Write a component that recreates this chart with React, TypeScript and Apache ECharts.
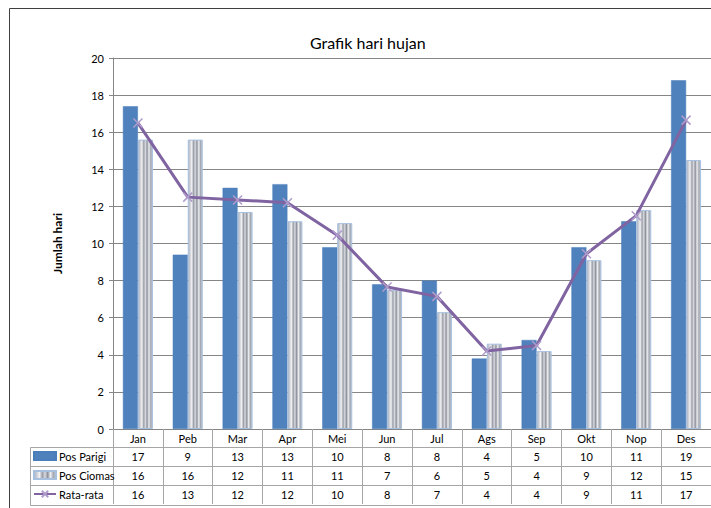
import React, { useEffect, useRef } from "react";
import * as echarts from "echarts";

const months = ["Jan", "Peb", "Mar", "Apr", "Mei", "Jun", "Jul", "Ags", "Sep", "Okt", "Nop", "Des"];
const posParigi = [17.4, 9.4, 13.0, 13.2, 9.8, 7.8, 8.0, 3.8, 4.8, 9.8, 11.2, 18.8];
const posCiomas = [15.6, 15.6, 11.7, 11.2, 11.1, 7.5, 6.3, 4.6, 4.2, 9.1, 11.8, 14.5];
const rataRata = [16.5, 12.5, 12.35, 12.2, 10.45, 7.65, 7.15, 4.2, 4.5, 9.45, 11.5, 16.65];
const tableParigi = ["17", "9", "13", "13", "10", "8", "8", "4", "5", "10", "11", "19"];
const tableCiomas = ["16", "16", "12", "11", "11", "7", "6", "5", "4", "9", "12", "15"];
const tableRata = ["16", "13", "12", "12", "10", "8", "7", "4", "4", "9", "11", "17"];
const seriesNames = ["Pos Parigi", "Pos Ciomas", "Rata-rata"];

const FONT = "Lato, 'Open Sans', sans-serif";
const TABLE_LINE = "#a6a6a6";
const AXIS_LINE = "#868686";

const stripe = new echarts.graphic.LinearGradient(0, 0, 1, 0, [
  { offset: 0, color: "#a9b3c4" },
  { offset: 0.12, color: "#c9ccd3" },
  { offset: 0.25, color: "#f2f2f4" },
  { offset: 0.38, color: "#9a9ea8" },
  { offset: 0.5, color: "#d8dadf" },
  { offset: 0.62, color: "#8d919b" },
  { offset: 0.75, color: "#eceef0" },
  { offset: 0.88, color: "#a3a7b0" },
  { offset: 1, color: "#c4c8d0" },
]);

function tableAxis(offset: number, labels: string[] | null) {
  return {
    type: "category",
    data: months,
    position: "bottom",
    offset,
    gridIndex: 0,
    axisLine: { show: true, lineStyle: { color: TABLE_LINE, width: 1 } },
    axisTick: {
      show: labels !== null,
      alignWithLabel: false,
      length: 19,
      lineStyle: { color: TABLE_LINE, width: 1 },
    },
    axisLabel: {
      show: labels !== null,
      interval: 0,
      margin: 4,
      fontSize: 11,
      fontFamily: FONT,
      color: "#000",
      formatter: (_v: string, i: number) => (labels ? labels[i] : ""),
    },
    splitLine: { show: false },
  };
}

export default function App() {
  const ref = useRef<HTMLDivElement>(null);
  useEffect(() => {
    if (!ref.current) return;
    const chart = echarts.init(ref.current, null, { renderer: "svg" });
    const crossPath = "path://M0,0L10,10M10,0L0,10";
    chart.setOption({
      animation: false,
      backgroundColor: "#fff",
      textStyle: { fontFamily: FONT },
      title: {
        text: "Grafik hari hujan",
        left: 305,
        top: 29,
        textStyle: { fontSize: 16, fontWeight: "normal", color: "#000", fontFamily: FONT },
      },
      legend: {
        orient: "vertical",
        left: 33,
        top: 450,
        padding: 0,
        itemWidth: 22,
        itemHeight: 8,
        itemGap: 7,
        data: [
          { name: seriesNames[0], icon: "rect" },
          { name: seriesNames[1], icon: "rect" },
          { name: seriesNames[2] },
        ],
        textStyle: { fontSize: 11, lineHeight: 12, color: "#000", fontFamily: FONT, padding: [0, 0, 0, -2] },
      },
      grid: { left: 113, right: 0, top: 58, bottom: 79, containLabel: false },
      xAxis: [
        {
          type: "category",
          data: months,
          position: "bottom",
          axisLine: { show: true, lineStyle: { color: AXIS_LINE, width: 1 } },
          axisTick: { show: true, length: 18, lineStyle: { color: TABLE_LINE } },
          axisLabel: { interval: 0, margin: 4, fontSize: 11, color: "#000", fontFamily: FONT },
          splitLine: { show: false },
        },
        tableAxis(18, tableParigi),
        tableAxis(37, tableCiomas),
        tableAxis(56, tableRata),
        tableAxis(76, null),
      ],
      yAxis: {
        type: "value",
        min: 0,
        max: 20,
        interval: 2,
        name: "Jumlah hari",
        nameLocation: "middle",
        nameRotate: 90,
        nameGap: 50,
        nameTextStyle: { fontSize: 12, fontWeight: "bold", color: "#000", fontFamily: FONT },
        axisLine: { show: true, lineStyle: { color: AXIS_LINE } },
        axisTick: { show: true, length: 4, lineStyle: { color: AXIS_LINE } },
        axisLabel: { fontSize: 11, color: "#000", margin: 9, fontFamily: FONT },
        splitLine: { show: true, lineStyle: { color: AXIS_LINE, width: 1 } },
      },
      series: [
        {
          name: seriesNames[0],
          type: "bar",
          data: posParigi,
          barWidth: 15,
          barGap: "0%",
          itemStyle: { color: "#4f81bd", borderColor: "#4a7ebb", borderWidth: 0.5 },
        },
        {
          name: seriesNames[1],
          type: "bar",
          data: posCiomas,
          barWidth: 15,
          barGap: "0%",
          itemStyle: { color: stripe, borderColor: "#a7c0e0", borderWidth: 1 },
        },
        {
          name: seriesNames[2],
          type: "line",
          data: rataRata,
          symbol: crossPath,
          symbolSize: 9,
          showSymbol: true,
          lineStyle: { color: "#8064a2", width: 3 },
          itemStyle: { color: "#8064a2", borderColor: "#b09ccb", borderWidth: 1.5 },
          z: 5,
        },
      ],
      graphic: [
        {
          type: "rect",
          shape: { x: 9.5, y: 8.5, width: 800, height: 600 },
          style: { fill: "none", stroke: "#3f3f3f", lineWidth: 1 },
          silent: true,
          z: 100,
        },
        {
          type: "polyline",
          shape: { points: [[113, 447.5], [30.5, 447.5], [30.5, 505.5], [113, 505.5]] },
          style: { fill: "none", stroke: TABLE_LINE, lineWidth: 1 },
          silent: true,
        },
        {
          type: "line",
          shape: { x1: 30.5, y1: 466.5, x2: 113, y2: 466.5 },
          style: { stroke: TABLE_LINE, lineWidth: 1 },
          silent: true,
        },
        {
          type: "line",
          shape: { x1: 30.5, y1: 485.5, x2: 113, y2: 485.5 },
          style: { stroke: TABLE_LINE, lineWidth: 1 },
          silent: true,
        },
      ],
    });
    return () => chart.dispose();
  }, []);
  return (
    <div
      ref={ref}
      style={{ position: "fixed", left: 0, top: 0, width: 711, height: 508 }}
    />
  );
}
